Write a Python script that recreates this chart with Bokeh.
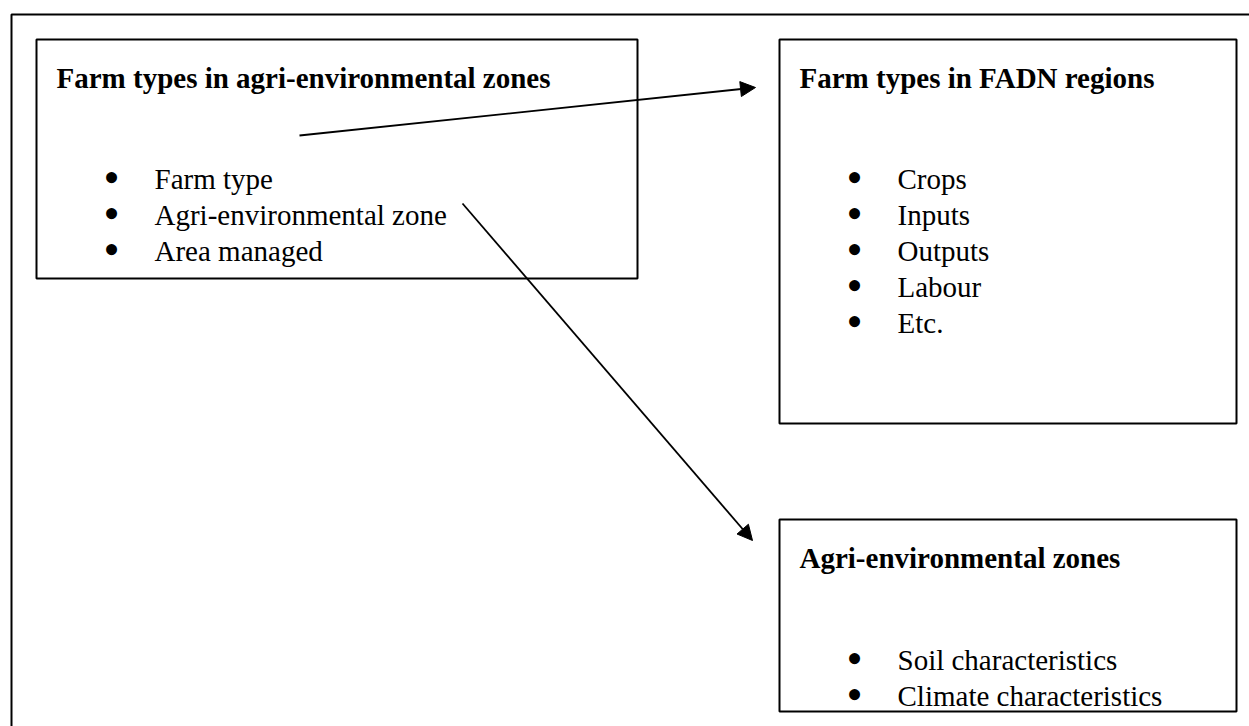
from bokeh.plotting import figure
from bokeh.models import Range1d, Arrow, NormalHead
from bokeh.core.properties import value
from bokeh.embed import file_html
from bokeh.resources import INLINE

# ---- content ----
box_titles = ["Farm types in agri-environmental zones",
              "Farm types in FADN regions",
              "Agri-environmental zones"]
box_items = [["Farm type", "Agri-environmental zone", "Area managed"],
             ["Crops", "Inputs", "Outputs", "Labour", "Etc."],
             ["Soil characteristics", "Climate characteristics"]]

# ---- layout (pixel coordinates) ----
box_left = [36, 779, 779]
box_right = [637, 1236, 1236]
box_top = [39, 39, 519]
box_bottom = [278, 423, 711]
title_base = [77, 77, 557]
item_first_base = [178, 178, 659]
item_step = 36
arrows_from = [(299, 135), (462, 203)]
arrows_to = [(755, 87), (752, 540)]

W, H = 1249, 726
p = figure(width=W, height=H, output_backend="svg", toolbar_location=None,
           x_range=Range1d(0, W), y_range=Range1d(H, 0),
           min_border=0, outline_line_color=None)
p.axis.visible = False
p.grid.visible = False
p.background_fill_color = "white"

FONT = value("Liberation Serif")

# outer frame (right and bottom fall outside the page)
p.line([11, 11, 1300], [780, 14, 14], line_color="black", line_width=2)

# boxes
p.quad(left=box_left, right=box_right, top=box_top, bottom=box_bottom,
       fill_color=None, line_color="black", line_width=2)

# titles
p.text(x=[l + 20 for l in box_left], y=title_base, text=box_titles,
       text_font=FONT, text_font_size="29px", text_font_style="bold",
       text_baseline="alphabetic", text_align="left", text_color="black")

# bullet items
bx, by, ty, tx, tt = [], [], [], [], []
for i, items in enumerate(box_items):
    for j, it in enumerate(items):
        y = item_first_base[i] + j * item_step
        bx.append(box_left[i] + 75)
        by.append(y - 1)
        ty.append(y)
        tx.append(box_left[i] + 118)
        tt.append(it)
p.text(x=bx, y=by, text=["\u2022"] * len(bx), text_font=FONT,
       text_font_size="46px", text_baseline="alphabetic", text_align="center",
       text_color="black")
p.text(x=tx, y=ty, text=tt, text_font=FONT, text_font_size="29px",
       text_baseline="alphabetic", text_align="left", text_color="black")

# arrows
for (x0, y0), (x1, y1) in zip(arrows_from, arrows_to):
    p.add_layout(Arrow(x_start=x0, y_start=y0, x_end=x1, y_end=y1,
                       line_color="black", line_width=1.8,
                       end=NormalHead(size=15, fill_color="black",
                                      line_color="black", line_width=1)))

open("out.html", "w").write(file_html(p, INLINE))
